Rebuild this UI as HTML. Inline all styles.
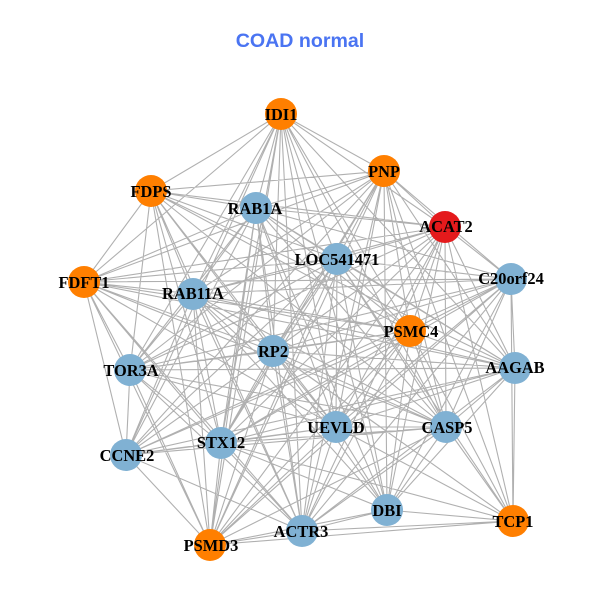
<!DOCTYPE html>
<html><head><meta charset="utf-8"><style>html,body{margin:0;padding:0;background:#fff}svg{display:block}.n text{font:bold 16.4px "Liberation Serif",serif;text-anchor:middle;fill:#000}</style></head><body>
<svg width="600" height="600" viewBox="0 0 600 600" xmlns="http://www.w3.org/2000/svg">
<rect width="600" height="600" fill="#fff"/>
<text x="300" y="47" font-family="Liberation Sans, sans-serif" font-weight="bold" font-size="19.6" fill="#4a74f2" text-anchor="middle">COAD normal</text>
<path fill="none" stroke="#b0b0b0" stroke-width="1.1" d="
M281 114L151 191 281 114 256 208 281 114 84 282 281 114 193 294 281 114 384 171 281 114 445 227 281 114 337 259 281 114 410 331 281 114 273 351 281 114 130 370 281 114 126 455 281 114 221 443 281 114 210 545 281 114 302 531 281 114 515 368 281 114 336 427 281 114 446 427 281 114 387 510
M151 191L256 208 151 191 84 282 151 191 193 294 151 191 384 171 151 191 445 227 151 191 337 259 151 191 410 331 151 191 273 351 151 191 130 370 151 191 221 443 151 191 210 545 151 191 302 531 151 191 336 427 151 191 446 427 151 191 515 368
M256 208L84 282 256 208 193 294 256 208 384 171 256 208 445 227 256 208 337 259 256 208 511 279 256 208 410 331 256 208 273 351 256 208 130 370 256 208 126 455 256 208 221 443 256 208 210 545 256 208 302 531 256 208 515 368 256 208 336 427 256 208 446 427 256 208 387 510
M84 282L193 294 84 282 384 171 84 282 337 259 84 282 445 227 84 282 511 279 84 282 410 331 84 282 273 351 84 282 130 370 84 282 126 455 84 282 221 443 84 282 210 545 84 282 336 427 84 282 302 531 84 282 446 427 84 282 515 368
M193 294L384 171 193 294 445 227 193 294 337 259 193 294 511 279 193 294 410 331 193 294 273 351 193 294 130 370 193 294 126 455 193 294 221 443 193 294 210 545 193 294 302 531 193 294 515 368 193 294 336 427 193 294 446 427 193 294 387 510 193 294 513 521
M384 171L445 227 384 171 337 259 384 171 511 279 384 171 410 331 384 171 273 351 384 171 130 370 384 171 126 455 384 171 221 443 384 171 210 545 384 171 302 531 384 171 515 368 384 171 336 427 384 171 446 427 384 171 387 510 384 171 513 521
M445 227L337 259 445 227 511 279 445 227 410 331 445 227 273 351 445 227 130 370 445 227 221 443 445 227 210 545 445 227 302 531 445 227 515 368 445 227 336 427 445 227 446 427 445 227 387 510 445 227 513 521
M337 259L511 279 337 259 410 331 337 259 273 351 337 259 130 370 337 259 126 455 337 259 221 443 337 259 210 545 337 259 302 531 337 259 515 368 337 259 336 427 337 259 446 427 337 259 387 510 337 259 513 521
M511 279L410 331 511 279 273 351 511 279 130 370 511 279 221 443 511 279 210 545 511 279 302 531 511 279 515 368 511 279 336 427 511 279 446 427 511 279 387 510 511 279 513 521 511 279 126 455
M410 331L273 351 410 331 130 370 410 331 126 455 410 331 221 443 410 331 210 545 410 331 302 531 410 331 515 368 410 331 336 427 410 331 446 427 410 331 387 510 410 331 513 521
M273 351L130 370 273 351 126 455 273 351 221 443 273 351 210 545 273 351 302 531 273 351 515 368 273 351 336 427 273 351 446 427 273 351 387 510 273 351 513 521
M130 370L126 455 130 370 221 443 130 370 210 545 130 370 302 531 130 370 515 368 130 370 336 427 130 370 446 427
M126 455L221 443 126 455 210 545 126 455 302 531 126 455 515 368 126 455 336 427 126 455 446 427
M221 443L210 545 221 443 302 531 221 443 515 368 221 443 336 427 221 443 446 427 221 443 387 510 221 443 513 521
M210 545L302 531 210 545 336 427 210 545 446 427 210 545 387 510 210 545 513 521
M302 531L515 368 302 531 336 427 302 531 446 427 302 531 387 510 302 531 513 521
M515 368L336 427 515 368 446 427 515 368 387 510 515 368 513 521
M336 427L446 427 336 427 387 510 336 427 513 521
M446 427L387 510 446 427 513 521
M387 510L513 521"/>
<g class="n">
<circle cx="281" cy="114" r="16" fill="#ff7f00"/><circle cx="151" cy="191" r="16" fill="#ff7f00"/><circle cx="256" cy="208" r="16" fill="#80b1d3"/><circle cx="84" cy="282" r="16" fill="#ff7f00"/><circle cx="193" cy="294" r="16" fill="#80b1d3"/><circle cx="384" cy="171" r="16" fill="#ff7f00"/><circle cx="445" cy="227" r="16" fill="#e41a1c"/><circle cx="337" cy="259" r="16" fill="#80b1d3"/><circle cx="511" cy="279" r="16" fill="#80b1d3"/><circle cx="410" cy="331" r="16" fill="#ff7f00"/><circle cx="273" cy="351" r="16" fill="#80b1d3"/><circle cx="130" cy="370" r="16" fill="#80b1d3"/><circle cx="126" cy="455" r="16" fill="#80b1d3"/><circle cx="221" cy="443" r="16" fill="#80b1d3"/><circle cx="210" cy="545" r="16" fill="#ff7f00"/><circle cx="302" cy="531" r="16" fill="#80b1d3"/><circle cx="515" cy="368" r="16" fill="#80b1d3"/><circle cx="336" cy="427" r="16" fill="#80b1d3"/><circle cx="446" cy="427" r="16" fill="#80b1d3"/><circle cx="387" cy="510" r="16" fill="#80b1d3"/><circle cx="513" cy="521" r="16" fill="#ff7f00"/>
<text x="281" y="120">IDI1</text><text x="151" y="197">FDPS</text><text x="255" y="214">RAB1A</text><text x="84" y="288">FDFT1</text><text x="193" y="299">RAB11A</text><text x="384" y="177">PNP</text><text x="446" y="232">ACAT2</text><text x="337" y="265">LOC541471</text><text x="511" y="284">C20orf24</text><text x="411" y="337">PSMC4</text><text x="273" y="357">RP2</text><text x="131" y="376">TOR3A</text><text x="127" y="461">CCNE2</text><text x="221" y="448">STX12</text><text x="211" y="551">PSMD3</text><text x="301" y="537">ACTR3</text><text x="515" y="373">AAGAB</text><text x="336" y="433">UEVLD</text><text x="447" y="433">CASP5</text><text x="387" y="516">DBI</text><text x="513" y="527">TCP1</text>
</g>
</svg>
</body></html>
